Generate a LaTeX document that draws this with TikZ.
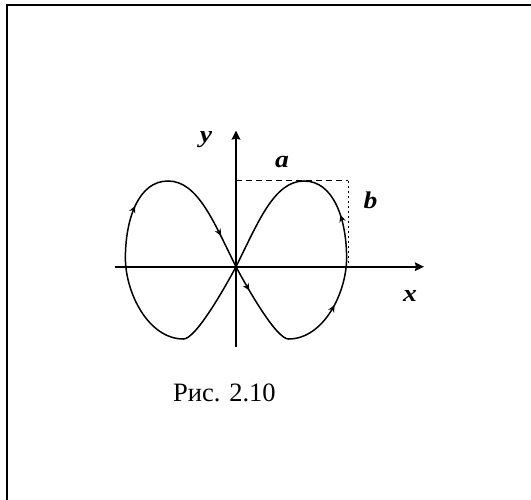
\documentclass[tikz,border=0pt]{standalone}
\usepackage{fontspec}
\setmainfont{Liberation Serif}
\usetikzlibrary{arrows.meta,decorations.markings}
\begin{document}
\begin{tikzpicture}[x=1pt,y=-1pt,
  axis/.style={line width=2pt,-{Stealth[length=9pt,width=8.5pt,inset=1pt]}},
  curve/.style={line width=1.5pt,line join=round,line cap=round},
  markat/.style={curve,postaction={decorate},decoration={markings,
     mark=at position #1 with {\arrow{Stealth[length=7pt,width=6.5pt]}}}},
  lab/.style={font=\fontsize{24}{28}\selectfont\bfseries\itshape,anchor=base,xscale=1.15,inner sep=0pt},
  caption/.style={font=\fontsize{26.5}{30}\selectfont,anchor=base west,inner sep=0pt}]
\useasboundingbox (0,0) rectangle (531,499);
% frame (only top and left edges visible)
\draw[line width=2pt] (7,500) -- (7,5) -- (532,5);
% axes
\coordinate (O) at (236,266.7);
\coordinate (xs) at (115,266.7);
\coordinate (xe) at (424,266.7);
\coordinate (ys) at (236,346.7);
\coordinate (ye) at (236,130.5);
\draw[axis] (xs) -- (xe);
\draw[axis,line width=2.3pt] (ys) -- (ye);
% dashed guides
\coordinate (A) at (236,180.5);
\coordinate (C) at (348.3,180.5);
\coordinate (D) at (348.3,266.7);
\draw[line width=0.8pt,dash pattern=on 6pt off 4pt] (A) -- (C);
\draw[line width=1pt,dash pattern=on 2pt off 3pt] (C) -- (D);
% key points of the figure-eight
\coordinate (P)  at (304,181);   % top right
\coordinate (E)  at (346.6,258); % right extreme
\coordinate (B)  at (288.5,339); % bottom right
\coordinate (P') at (168,181);   % top left
\coordinate (E') at (125.4,258); % left extreme
\coordinate (B') at (183.5,339); % bottom left
% right lobe
\draw[markat=0.3]  (O) .. controls (248,289.3) and (276.5,339) .. (B);
\draw[markat=0.55] (B) .. controls (323.5,339) and (346.6,293) .. (E);
\draw[markat=0.45] (E) .. controls (346.6,220) and (334,181) .. (P);
\draw[curve]       (P) .. controls (274,181) and (258,222.7) .. (O);
% left lobe
\draw[curve]       (O) .. controls (224,289.3) and (195.5,339) .. (B');
\draw[curve]       (B') .. controls (148.5,339) and (125.4,293) .. (E');
\draw[markat=0.55] (E') .. controls (125.4,220) and (138,181) .. (P');
\draw[markat=0.7]  (P') .. controls (198,181) and (214,222.7) .. (O);
% labels
\node[lab] (ly) at (206,142.3) {y};
\node[lab] (la) at (282,167.3) {a};
\node[lab] (lb) at (370.5,208.3) {b};
\node[lab] (lx) at (410,301.7) {x};
\node[caption] (cap) at (173,401) {Рис. 2.10};
\end{tikzpicture}
\end{document}
